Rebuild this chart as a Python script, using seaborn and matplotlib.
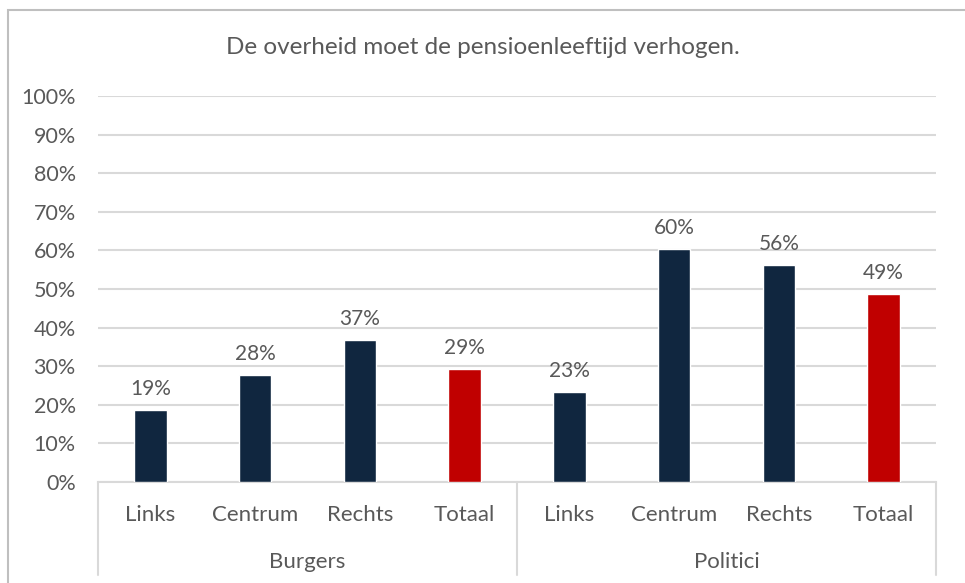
import pandas as pd
import seaborn as sns
import matplotlib.pyplot as plt
from matplotlib.patches import Rectangle

# Data
groups = ["Burgers", "Politici"]
categories = ["Links", "Centrum", "Rechts", "Totaal"]
burgers = [18.7, 27.7, 36.8, 29.3]
politici = [23.3, 60.4, 56.2, 48.7]
title = "De overheid moet de pensioenleeftijd verhogen."

navy = "#10263F"
red = "#C00000"
textc = "#595959"
gridc = "#D9D9D9"

rows = []
for g, vals in zip(groups, [burgers, politici]):
    for c, v in zip(categories, vals):
        rows.append({"key": f"{g}-{c}", "groep": g, "cat": c, "waarde": v,
                     "soort": "totaal" if c == "Totaal" else "deel"})
df = pd.DataFrame(rows)

sns.set_style("white")
plt.rcParams["font.family"] = ["Lato", "DejaVu Sans"]

fig = plt.figure(figsize=(9.65, 5.83), dpi=100)
ax = fig.add_axes([98 / 965, 1 - 482 / 583, (936 - 98) / 965, (482 - 96) / 583])

sns.barplot(data=df, x="key", y="waarde", hue="soort", dodge=False,
            palette={"deel": navy, "totaal": red}, width=0.31, saturation=1,
            legend=False, ax=ax, zorder=3)

ax.set_ylim(0, 100)
ax.set_xlim(-0.5, len(df) - 0.5)
ax.set_yticks(range(0, 101, 10))
ax.set_yticklabels([f"{t}%" for t in range(0, 101, 10)])
ax.yaxis.grid(True, color=gridc, lw=1.5, zorder=0)
ax.set_axisbelow(True)
for s in ["top", "right", "left"]:
    ax.spines[s].set_visible(False)
ax.spines["bottom"].set_color(gridc)
ax.spines["bottom"].set_linewidth(1.5)

ax.set_xticks(range(len(df)))
ax.set_xticklabels(df["cat"])
ax.tick_params(axis="x", length=0, pad=16.5, labelsize=16, labelcolor=textc)
ax.tick_params(axis="y", length=0, pad=16, labelsize=15.5, labelcolor=textc)
ax.set_xlabel("")
ax.set_ylabel("")

# value labels
for i, v in enumerate(df["waarde"]):
    ax.annotate(f"{v:.0f}%", (i, v), xytext=(0, 8), textcoords="offset points",
                ha="center", va="bottom", fontsize=15, color=textc)

# group labels and dividers
trans = ax.get_xaxis_transform()
n = len(categories)
for k, g in enumerate(groups):
    mid = k * n + (n - 1) / 2
    ax.text(mid, -0.206, g, transform=trans, ha="center", va="center",
            fontsize=16, color=textc)
for x in [-0.5, n - 0.5, 2 * n - 0.5]:
    ax.plot([x, x], [0, -0.241], transform=trans, color=gridc, lw=1.5,
            clip_on=False)

fig.text(0.5, 1 - 48 / 583, title, ha="center", va="center", fontsize=17.5,
         color=textc)

fig.patches.append(Rectangle((8 / 965, -0.05), 1.2, 1 - 10 / 583 + 0.05,
                             transform=fig.transFigure, fill=False,
                             edgecolor="#BFBFBF", lw=1.5))

fig.savefig("out.png", dpi=100)
